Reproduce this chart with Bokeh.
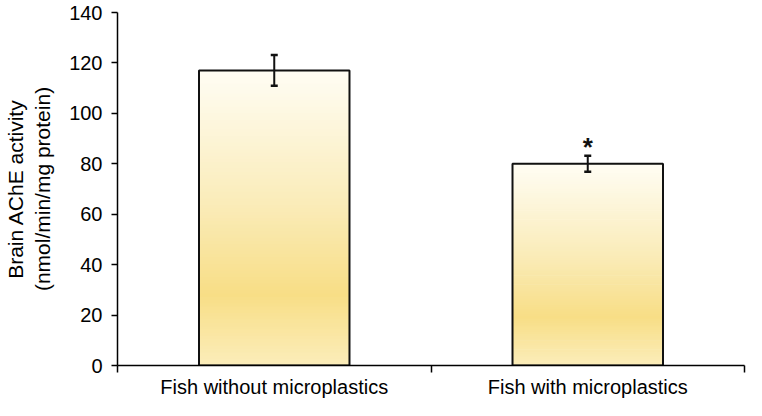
from bokeh.plotting import figure
from bokeh.models import FixedTicker, ColumnDataSource, Whisker, TeeHead
from bokeh.core.properties import value
from bokeh.embed import file_html
from bokeh.resources import INLINE

# ---- data ----
categories = ["Fish without microplastics", "Fish with microplastics"]
values = [117, 80]
errors = [6.1, 3.2]
significance = ["", "*"]
y_ticks = [0, 20, 40, 60, 80, 100, 120, 140]

# ---- styling ----
FONT = "Liberation Sans"
BAR_W = 0.48
# gradient stops (fraction of bar height from bottom, rgb)
STOPS = [(0.0, (251, 237, 186)), (0.24, (248, 222, 134)), (0.55, (250, 236, 185)), (1.0, (255, 253, 244))]
N_SLICES = 90


def grad_color(t):
    for (t0, c0), (t1, c1) in zip(STOPS[:-1], STOPS[1:]):
        if t0 <= t <= t1:
            f = (t - t0) / (t1 - t0)
            c = [round(a + (b - a) * f) for a, b in zip(c0, c1)]
            return "#%02x%02x%02x" % tuple(c)
    return "#%02x%02x%02x" % STOPS[-1][1]


xs = [i + 0.5 for i in range(len(categories))]

p = figure(width=746, height=400, x_range=(0, 2), y_range=(0, 140),
           output_backend="svg", toolbar_location=None,
           min_border_left=117, min_border_right=2, min_border_top=12, min_border_bottom=30)
p.outline_line_color = None
p.xgrid.visible = False
p.ygrid.visible = False
p.background_fill_color = "white"
p.border_fill_color = "white"

# gradient bars
gl, gr, gb, gt, gc = [], [], [], [], []
for x, v in zip(xs, values):
    for k in range(N_SLICES):
        gl.append(x - BAR_W / 2)
        gr.append(x + BAR_W / 2)
        gb.append(v * k / N_SLICES)
        gt.append(min(v, v * (k + 1.3) / N_SLICES))
        gc.append(grad_color((k + 0.5) / N_SLICES))
p.quad(left=gl, right=gr, bottom=gb, top=gt, fill_color=gc, line_color=None)

# bar outlines
src = ColumnDataSource(dict(x=xs, top=values, err=errors,
                            upper=[v + e for v, e in zip(values, errors)],
                            lower=[v - e for v, e in zip(values, errors)],
                            sig=significance))
p.vbar(x="x", top="top", width=BAR_W, bottom=0, source=src,
       fill_color=None, line_color="#111111", line_width=2)

# error bars
w = Whisker(source=src, base="x", upper="upper", lower="lower",
            line_color="#111111", line_width=2, level="overlay",
            upper_head=TeeHead(size=7, line_color="#111111", line_width=2.5),
            lower_head=TeeHead(size=7, line_color="#111111", line_width=2.5))
p.add_layout(w)

# significance asterisk
p.text(x="x", y="upper", text="sig", source=src, text_font=value(FONT),
       text_font_size="26px", text_font_style="bold", text_align="center",
       text_baseline="alphabetic", y_offset=-9, text_color="#111111")

# x axis
xa = p.xaxis[0]
xa.ticker = FixedTicker(ticks=xs, minor_ticks=[0, 1, 2])
xa.major_label_overrides = {x: c for x, c in zip(xs, categories)}
xa.major_tick_line_color = None
xa.major_tick_out = 0
xa.major_tick_in = 0
xa.minor_tick_line_color = "black"
xa.minor_tick_line_width = 1.5
xa.minor_tick_out = 7
xa.minor_tick_in = 0
xa.axis_line_color = "black"
xa.axis_line_width = 1.5
xa.major_label_text_font = FONT
xa.major_label_text_font_size = "20px"
xa.major_label_text_color = "black"
xa.major_label_standoff = 3

# y axis
ya = p.yaxis[0]
ya.ticker = FixedTicker(ticks=y_ticks)
ya.minor_tick_line_color = None
ya.major_tick_out = 6
ya.major_tick_in = 0
ya.major_tick_line_color = "black"
ya.major_tick_line_width = 1.5
ya.axis_line_color = "black"
ya.axis_line_width = 1.5
ya.major_label_text_font = FONT
ya.major_label_text_font_size = "20px"
ya.major_label_text_color = "black"
ya.major_label_standoff = 9
ya.axis_label = "Brain AChE activity\n(nmol/min/mg protein)"
ya.axis_label_text_font = FONT
ya.axis_label_text_font_size = "21px"
ya.axis_label_text_font_style = "normal"
ya.axis_label_text_color = "black"
ya.axis_label_standoff = 12

open("out.html", "w").write(file_html(p, INLINE))
